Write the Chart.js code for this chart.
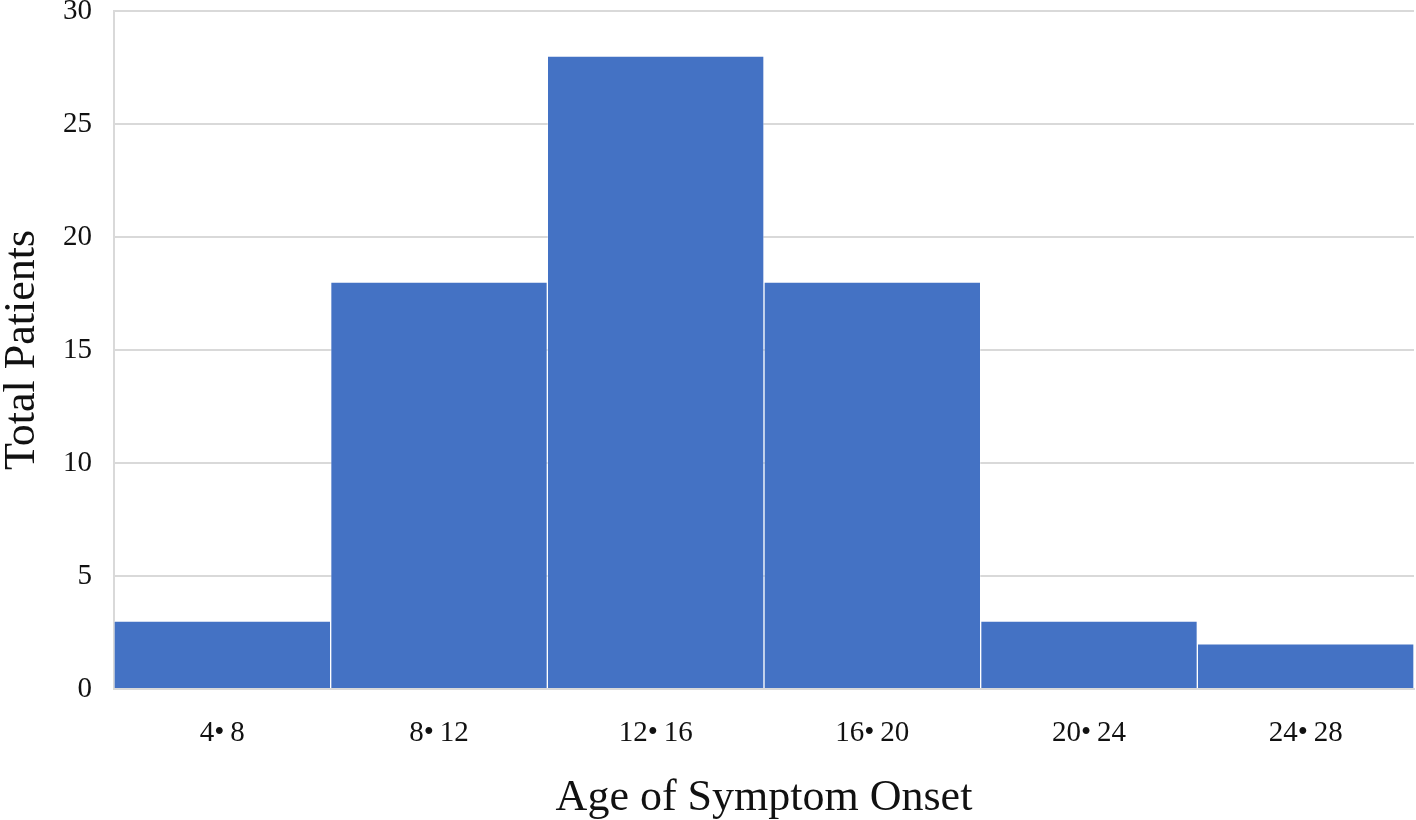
<!DOCTYPE html>
<html>
<head>
<meta charset="utf-8">
<script src="https://cdn.jsdelivr.net/npm/chart.js@4/dist/chart.umd.min.js"></script>
<style>
  html, body { margin: 0; padding: 0; background: #fff; }
  #wrap { width: 1416px; height: 820px; }
</style>
</head>
<body>
<div id="wrap"><canvas id="histChart"></canvas></div>
<script>
// age bins and counts
const ageBins = ['4•\u20098', '8•\u200912', '12•\u200916', '16•\u200920', '20•\u200924', '24•\u200928'];
const patientCounts = [3, 18, 28, 18, 3, 2];
const yTicks = [0, 5, 10, 15, 20, 25, 30];

const serif = "'Liberation Serif', 'Times New Roman', serif";
const gridGray = '#d9d9d9';

new Chart(document.getElementById('histChart'), {
  type: 'bar',
  data: {
    labels: ageBins,
    datasets: [{
      data: patientCounts,
      backgroundColor: '#4472C4',
      borderColor: 'rgba(255, 255, 255, 0.3)',
      borderWidth: 1,
      barPercentage: 1,
      categoryPercentage: 1
    }]
  },
  options: {
    responsive: true,
    maintainAspectRatio: false,
    animation: false,
    layout: { padding: { top: 11, right: 2, left: 0, bottom: 0 } },
    plugins: {
      legend: { display: false },
      tooltip: { enabled: false }
    },
    scales: {
      x: {
        grid: { display: false },
        border: { display: true, color: gridGray, width: 2 },
        ticks: {
          color: '#111',
          padding: 19,
          maxRotation: 0,
          font: { family: serif, size: 29 }
        },
        title: {
          display: true,
          text: 'Age of Symptom Onset',
          color: '#111',
          padding: { top: 0, bottom: 0 },
          font: { family: serif, size: 44, lineHeight: 0.98 }
        },
        afterFit: (scale) => { scale.height = 131; }
      },
      y: {
        min: 0,
        max: 30,
        afterBuildTicks: (scale) => { scale.ticks = yTicks.map(v => ({ value: v })); },
        grid: { color: gridGray, lineWidth: 2, drawTicks: false },
        border: { display: true, color: gridGray, width: 2 },
        ticks: {
          color: '#111',
          padding: 22,
          font: { family: serif, size: 29 }
        },
        title: {
          display: true,
          text: 'Total Patients',
          color: '#111',
          padding: { bottom: 0, top: 0 },
          font: { family: serif, size: 44, lineHeight: 1.0 }
        },
        afterFit: (scale) => {
          scale.width = 114;
          // let the top tick label hang over the edge like in the source
          scale.paddingTop = 0;
          scale.paddingBottom = 0;
        }
      }
    }
  }
});
</script>
</body>
</html>
